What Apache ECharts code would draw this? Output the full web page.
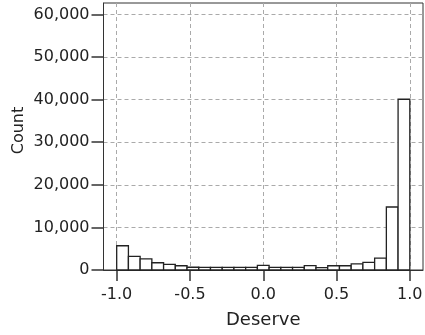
<!DOCTYPE html>
<html>
<head>
<meta charset="utf-8">
<script src="https://cdn.jsdelivr.net/npm/echarts@6/dist/echarts.min.js"></script>
<style>
  html, body { margin: 0; padding: 0; background: #fff; }
  #chart { width: 425px; height: 335px; }
</style>
</head>
<body>
<div id="chart"></div>
<script>
// Histogram of "Deserve" scores: 25 bins of width 0.08 over [-1, 1]
const binStarts = [-1.00, -0.92, -0.84, -0.76, -0.68, -0.60, -0.52, -0.44, -0.36, -0.28,
                   -0.20, -0.12, -0.04, 0.04, 0.12, 0.20, 0.28, 0.36, 0.44, 0.52,
                   0.60, 0.68, 0.76, 0.84, 0.92];
const binEnds = [-0.92, -0.84, -0.76, -0.68, -0.60, -0.52, -0.44, -0.36, -0.28, -0.20,
                 -0.12, -0.04, 0.04, 0.12, 0.20, 0.28, 0.36, 0.44, 0.52, 0.60,
                 0.68, 0.76, 0.84, 0.92, 1.00];
const counts = [5700, 3200, 2600, 1700, 1300, 1000, 650, 600, 600, 600,
                600, 600, 1100, 600, 600, 600, 1050, 550, 1000, 1000,
                1450, 1800, 2800, 14800, 40100];
const xTicks = [-1.0, -0.5, 0.0, 0.5, 1.0];
const yTicks = [0, 10000, 20000, 30000, 40000, 50000, 60000];

const FONT = 'DejaVu Sans';
const TEXT = '#222';

const chart = echarts.init(document.getElementById('chart'), null, { renderer: 'canvas' });

chart.setOption({
  animation: false,
  backgroundColor: '#fff',
  grid: {
    left: 103.5, right: 2, top: 3, bottom: 65,
    outerBoundsMode: 'none',
    show: true, borderColor: '#333', borderWidth: 1, backgroundColor: 'transparent'
  },
  xAxis: {
    type: 'value',
    min: -1.09, max: 1.09,
    name: 'Deserve',
    nameLocation: 'middle',
    nameGap: 41,
    nameTextStyle: { fontFamily: FONT, fontSize: 18, color: TEXT },
    axisLine: { show: true, onZero: false, lineStyle: { color: '#333', width: 1 } },
    axisTick: { show: true, length: 11, customValues: xTicks, lineStyle: { color: '#333', width: 1.5 } },
    axisLabel: {
      customValues: xTicks, margin: 17,
      fontFamily: FONT, fontSize: 16, color: TEXT,
      formatter: v => v.toFixed(1)
    },
    splitLine: { show: true, lineStyle: { color: '#aaa', type: [4, 3], width: 1 } }
  },
  yAxis: {
    type: 'value',
    min: 0, max: 62700,
    name: 'Count',
    nameLocation: 'middle',
    nameGap: 77,
    nameMoveOverlap: false,
    nameTextStyle: { fontFamily: FONT, fontSize: 16, color: TEXT, padding: [0, 0, 0, 12] },
    axisLine: { show: true, onZero: false, lineStyle: { color: '#333', width: 1 } },
    axisTick: { show: true, length: 12, customValues: yTicks, lineStyle: { color: '#333', width: 1.5 } },
    axisLabel: {
      customValues: yTicks, margin: 14,
      fontFamily: FONT, fontSize: 16, color: TEXT,
      formatter: v => v.toLocaleString('en-US')
    },
    splitLine: { show: true, lineStyle: { color: '#aaa', type: [4, 3], width: 1 } }
  },
  series: [{
    type: 'custom',
    data: counts.map((c, i) => [binStarts[i], binEnds[i], c]),
    encode: { x: [0, 1], y: 2 },
    renderItem: function (params, api) {
      const p0 = api.coord([api.value(0), api.value(2)]);
      const p1 = api.coord([api.value(1), 0]);
      return {
        type: 'rect',
        shape: { x: p0[0], y: p0[1], width: p1[0] - p0[0], height: p1[1] - p0[1] },
        style: { fill: '#fff', stroke: '#222', lineWidth: 1.3 }
      };
    }
  }]
});
</script>
</body>
</html>
